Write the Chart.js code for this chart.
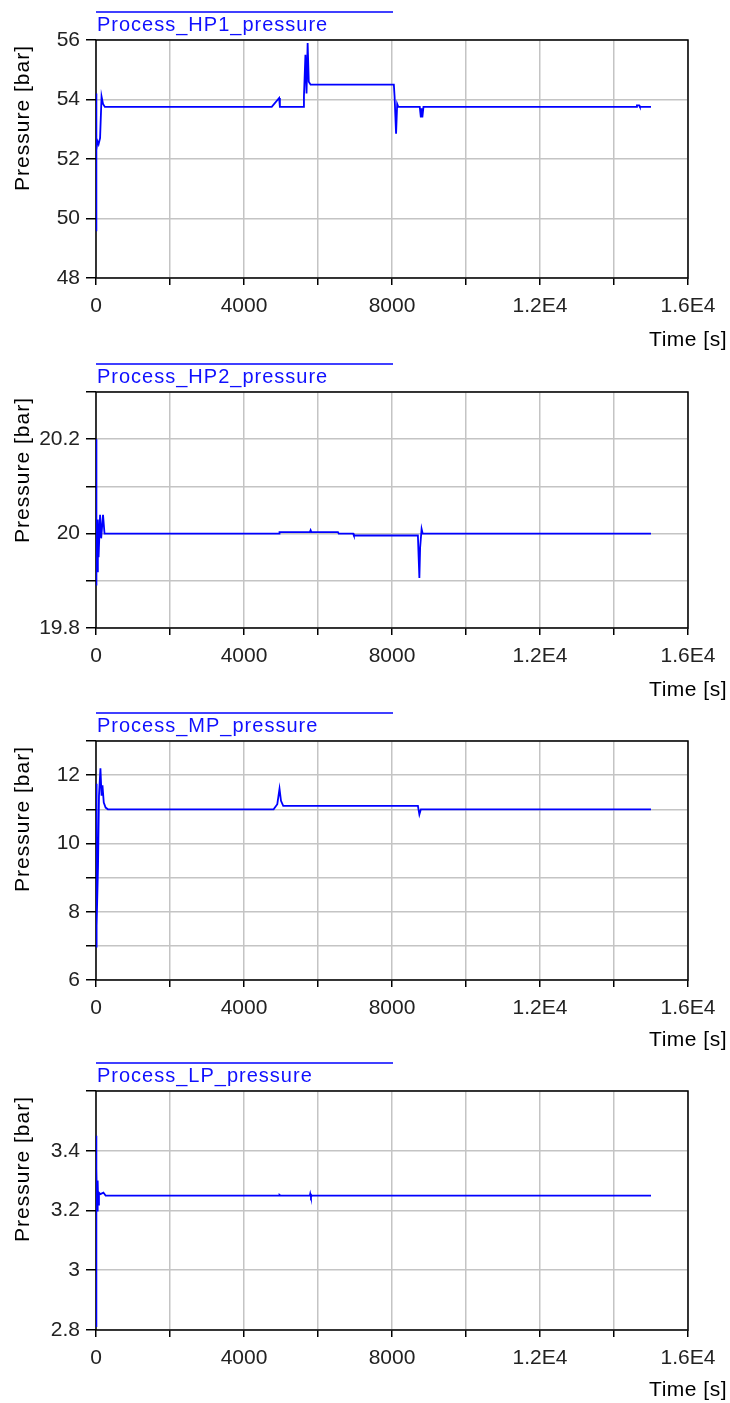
<!DOCTYPE html>
<html>
<head>
<meta charset="utf-8">
<script src="https://cdn.jsdelivr.net/npm/chart.js@4/dist/chart.umd.min.js"></script>
<style>
  html, body { margin: 0; padding: 0; background: #fff; }
  canvas { display: block; }
</style>
</head>
<body>
<canvas id="chartHP1" width="730" height="350"></canvas>
<canvas id="chartHP2" width="730" height="350"></canvas>
<canvas id="chartMP" width="730" height="350"></canvas>
<canvas id="chartLP" width="730" height="353"></canvas>
<script>
// x axis (shared)
const timeTickValues = [0, 4000, 8000, 12000, 16000];
const timeTickLabels = ['0', '4000', '8000', '1.2E4', '1.6E4'];

// Process_HP1_pressure
const hp1Time = [0, 5, 15, 40, 70, 110, 150, 190, 240, 4750, 4950, 4970, 5600, 5620, 5660, 5690, 5720, 5750, 5800,
  8050, 8070, 8110, 8140, 8170, 8750, 8780, 8800, 8820, 8850, 14600, 14620, 14680, 14700, 15000];
const hp1Pressure = [49.6, 54.2, 52.3, 52.6, 52.5, 52.7, 54.1, 53.85, 53.75, 53.75, 54.05, 53.75, 53.75, 54.1, 55.5, 54.2, 55.9, 54.6, 54.5,
  54.5, 54.1, 52.85, 53.85, 53.75, 53.75, 53.4, 53.7, 53.4, 53.75, 53.75, 53.8, 53.8, 53.75, 53.75];
const hp1YLabels = [48, 50, 52, 54, 56];

// Process_HP2_pressure
const hp2Time = [0, 3, 20, 35, 50, 70, 110, 140, 190, 230, 4950, 4960, 5780, 5800, 5820, 6540, 6560, 6950, 6970,
  8700, 8720, 8740, 8760, 8800, 8830, 15000];
const hp2Pressure = [20.2, 19.89, 20.03, 19.92, 20.03, 19.95, 20.04, 19.99, 20.04, 20.0, 20.0, 20.003, 20.003, 20.007, 20.003, 20.003, 20.0, 20.0, 19.996,
  19.996, 19.95, 19.906, 19.97, 20.01, 20.0, 20.0];
const hp2YLabels = [19.8, 20, 20.2];

// Process_MP_pressure
const mpTime = [0, 5, 27, 54, 81, 120, 150, 175, 210, 260, 320, 4800, 4900, 4960, 5000, 5060, 8700, 8740, 8780, 15000];
const mpPressure = [11.75, 6.95, 7.6, 9.3, 11.4, 12.2, 11.4, 11.7, 11.2, 11.05, 11.0, 11.0, 11.15, 11.6, 11.25, 11.1, 11.1, 10.85, 11.0, 11.0];
const mpYLabels = [6, 8, 10, 12];

// Process_LP_pressure
const lpTime = [0, 5, 15, 30, 45, 60, 80, 120, 200, 260, 4950, 4960, 4980, 5780, 5790, 5810, 5830, 15000];
const lpPressure = [3.45, 2.81, 3.34, 3.2, 3.3, 3.22, 3.26, 3.255, 3.26, 3.25, 3.25, 3.252, 3.25, 3.25, 3.256, 3.245, 3.25, 3.25];
const lpYLabels = [2.8, 3, 3.2, 3.4];

const FONT = '"Liberation Sans", Arial, sans-serif';

// draws the frame, the blue name with its bar, the axis titles
const decorPlugin = {
  id: 'decor',
  beforeDatasetsDraw(chart) {
    const a = chart.chartArea;
    const ctx = chart.ctx;
    ctx.save();
    ctx.strokeStyle = '#000';
    ctx.lineWidth = 1.5;
    ctx.strokeRect(a.left, a.top, a.right - a.left, a.bottom - a.top);
    ctx.restore();
  },
  afterDraw(chart, args, opts) {
    const a = chart.chartArea;
    const ctx = chart.ctx;
    ctx.save();
    // series name
    ctx.strokeStyle = '#0000ff';
    ctx.lineWidth = 1.5;
    ctx.beginPath();
    ctx.moveTo(a.left, a.top - 28);
    ctx.lineTo(393, a.top - 28);
    ctx.stroke();
    ctx.fillStyle = '#1010ff';
    ctx.font = '20px ' + FONT;
    ctx.letterSpacing = '1px';
    ctx.textAlign = 'left';
    ctx.textBaseline = 'middle';
    ctx.fillText(opts.name, a.left + 1, a.top - 15);
    // y title
    ctx.fillStyle = '#000';
    ctx.font = '21px ' + FONT;
    ctx.letterSpacing = '1px';
    ctx.translate(23, a.top + 5);
    ctx.rotate(-Math.PI / 2);
    ctx.textAlign = 'right';
    ctx.fillText('Pressure [bar]', 0, 0);
    ctx.restore();
    // x title
    ctx.save();
    ctx.fillStyle = '#000';
    ctx.font = '21px ' + FONT;
    ctx.letterSpacing = '0.5px';
    ctx.textAlign = 'right';
    ctx.textBaseline = 'middle';
    ctx.fillText('Time [s]', 727, 340);
    ctx.restore();
  }
};

function labelFor(list, names, v) {
  for (let i = 0; i < list.length; i++) {
    if (Math.abs(list[i] - v) < 1e-6) return names ? names[i] : String(list[i]);
  }
  return '';
}

function makeChart(id, name, times, values, yMin, yMax, yStep, yLabels, top, bottom) {
  const canvas = document.getElementById(id);
  const ctx = canvas.getContext('2d');
  const points = times.map((t, i) => ({ x: t, y: values[i] }));
  return new Chart(ctx, {
    type: 'line',
    data: {
      datasets: [{
        label: name,
        data: points,
        borderColor: '#0000ff',
        borderWidth: 1.8,
        pointRadius: 0,
        tension: 0,
        fill: false
      }]
    },
    options: {
      responsive: false,
      animation: false,
      layout: { padding: { top: top, right: 42, bottom: 0, left: 0 } },
      plugins: {
        legend: { display: false },
        tooltip: { enabled: false },
        decor: { name: name }
      },
      scales: {
        x: {
          type: 'linear',
          min: 0,
          max: 16000,
          border: { display: false },
          grid: { color: '#c4c4c4', lineWidth: 1.5, tickColor: '#000', tickLength: 7, tickWidth: 1.5 },
          ticks: {
            stepSize: 2000,
            autoSkip: false,
            maxRotation: 0,
            padding: 9,
            color: '#222',
            font: { family: FONT, size: 21 },
            callback: v => labelFor(timeTickValues, timeTickLabels, v)
          },
          afterFit: s => { s.height = canvas.height - bottom; }
        },
        y: {
          min: yMin,
          max: yMax,
          border: { display: false },
          grid: { color: '#c4c4c4', lineWidth: 1.5, tickColor: '#000', tickLength: 10, tickWidth: 1.5 },
          ticks: {
            stepSize: yStep,
            autoSkip: false,
            padding: 6,
            color: '#222',
            font: { family: FONT, size: 21 },
            callback: v => labelFor(yLabels, null, v)
          },
          afterFit: s => { s.width = 96; }
        }
      }
    },
    plugins: [decorPlugin]
  });
}

makeChart('chartHP1', 'Process_HP1_pressure', hp1Time, hp1Pressure, 48, 56, 2, hp1YLabels, 40, 278);
makeChart('chartHP2', 'Process_HP2_pressure', hp2Time, hp2Pressure, 19.8, 20.3, 0.1, hp2YLabels, 42, 278);
makeChart('chartMP', 'Process_MP_pressure', mpTime, mpPressure, 6, 13, 1, mpYLabels, 41, 280);
makeChart('chartLP', 'Process_LP_pressure', lpTime, lpPressure, 2.8, 3.6, 0.2, lpYLabels, 41, 280);
</script>
</body>
</html>
